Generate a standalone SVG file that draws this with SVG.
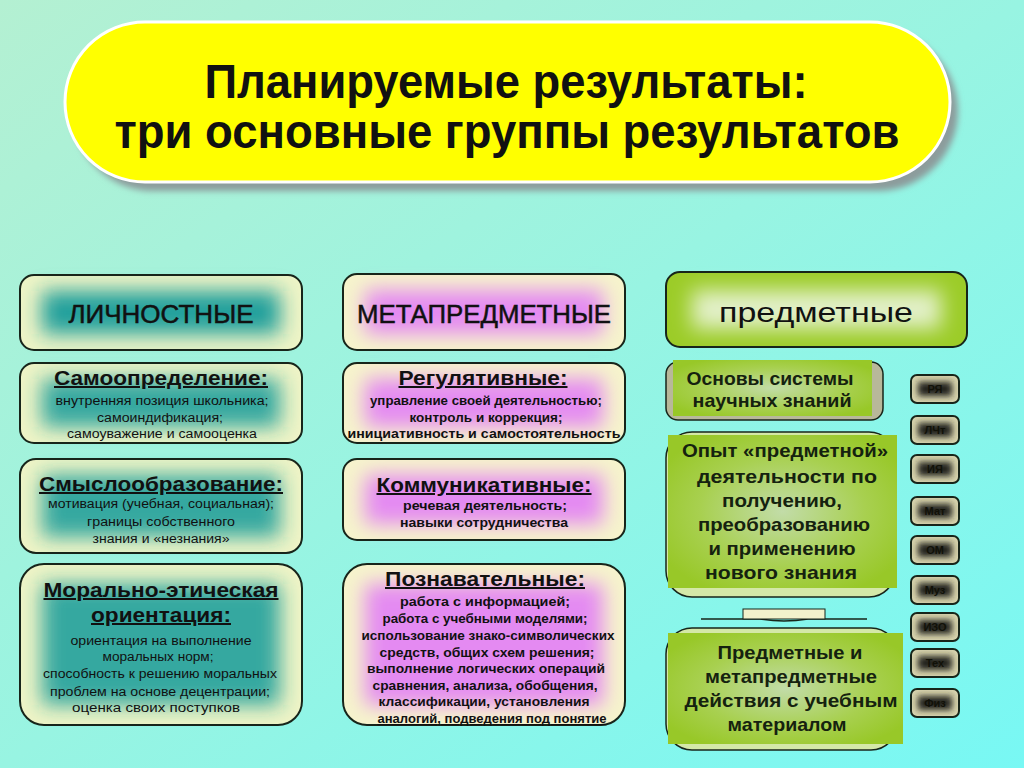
<svg xmlns="http://www.w3.org/2000/svg" width="1024" height="768" viewBox="0 0 1024 768">
<defs>
<linearGradient id="bg" x1="0" y1="0" x2="1" y2="1">
<stop offset="0" stop-color="#b4f0d2"/>
<stop offset="0.5" stop-color="#98f4e2"/>
<stop offset="1" stop-color="#78f8f4"/>
</linearGradient>
<radialGradient id="greenG" cx="0.5" cy="0.5" r="0.6">
<stop offset="0" stop-color="#c2dca8"/>
<stop offset="0.6" stop-color="#a8d050"/>
<stop offset="1" stop-color="#98c828"/>
</radialGradient>
<filter id="blur9" x="-40%" y="-80%" width="180%" height="260%"><feGaussianBlur stdDeviation="10"/></filter>
<filter id="blur4" x="-40%" y="-80%" width="180%" height="260%"><feGaussianBlur stdDeviation="3"/></filter>
<filter id="shadow" x="-10%" y="-20%" width="120%" height="140%"><feGaussianBlur stdDeviation="3"/></filter>
<style>
text{font-family:"Liberation Sans",Arial,sans-serif;fill:#111;text-anchor:middle}
.title{font-size:48px;font-weight:bold}
.head{font-size:25px;stroke:#111;stroke-width:0.5}
.h2{font-size:20px;font-weight:bold;text-decoration:underline}
.sub{font-size:12.5px}
.subb{font-size:12.5px;font-weight:bold}
.gr{font-size:18.5px;font-weight:bold;fill:#15220f}
.badge text{font-size:11px;font-weight:bold;fill:#111108}
.frame{fill:none;stroke:#17251a;stroke-width:2}
.cream{fill:#eef4c6}
.creamM{fill:#f6f4cc}
.teal{fill:#22a09c}
.pink{fill:#e48af2}
.gbox{fill:url(#greenG)}
.bfr{fill:#d8d4ae;stroke:#17251a;stroke-width:2}
.bcore{fill:#24221a}
</style>
</defs>

<rect x="0" y="0" width="1024" height="768" fill="url(#bg)"/>

<g id="title">
<rect x="73" y="31" width="885" height="160" rx="80" fill="#8c9c9c" filter="url(#shadow)"/>
<rect x="65" y="22" width="885" height="160" rx="80" fill="#ffff00" stroke="#ffffff" stroke-width="3"/>
<text class="title" x="506" y="98" textLength="603" lengthAdjust="spacingAndGlyphs">Планируемые результаты:</text>
<text class="title" x="507" y="148" textLength="785" lengthAdjust="spacingAndGlyphs">три основные группы результатов</text>
</g>

<!-- Left column -->
<g id="lichnostnye">
<rect class="cream" x="20" y="275" width="282" height="75" rx="14"/>
<rect class="teal" x="42" y="291" width="238" height="43" filter="url(#blur9)"/>
<rect class="frame" x="20" y="275" width="282" height="75" rx="14"/>
<text class="head" x="161" y="323" textLength="185" lengthAdjust="spacingAndGlyphs">ЛИЧНОСТНЫЕ</text>
</g>

<g id="samoopredelenie">
<rect class="cream" x="20" y="363" width="282" height="80" rx="14"/>
<rect class="teal" x="42" y="379" width="238" height="48" filter="url(#blur9)" opacity="0.9"/>
<rect class="frame" x="20" y="363" width="282" height="80" rx="14"/>
<text class="h2" x="161" y="385" textLength="214" lengthAdjust="spacingAndGlyphs">Самоопределение:</text>
<text class="sub" x="162" y="405" textLength="213" lengthAdjust="spacingAndGlyphs">внутренняя позиция школьника;</text>
<text class="sub" x="160" y="422" textLength="126" lengthAdjust="spacingAndGlyphs">самоиндификация;</text>
<text class="sub" x="162" y="438" textLength="190" lengthAdjust="spacingAndGlyphs">самоуважение и самооценка</text>
</g>

<g id="smysloobrazovanie">
<rect class="cream" x="20" y="459" width="282" height="94" rx="16"/>
<rect class="teal" x="42" y="475" width="238" height="62" filter="url(#blur9)" opacity="0.9"/>
<rect class="frame" x="20" y="459" width="282" height="94" rx="16"/>
<text class="h2" x="161" y="491" textLength="244" lengthAdjust="spacingAndGlyphs">Смыслообразование:</text>
<text class="sub" x="161" y="508" textLength="226" lengthAdjust="spacingAndGlyphs">мотивация (учебная, социальная);</text>
<text class="sub" x="161" y="526" textLength="148" lengthAdjust="spacingAndGlyphs">границы собственного</text>
<text class="sub" x="161" y="543" textLength="137" lengthAdjust="spacingAndGlyphs">знания и «незнания»</text>
</g>

<g id="moralno">
<rect class="cream" x="20" y="564" width="282" height="161" rx="24"/>
<rect class="teal" x="42" y="584" width="238" height="121" filter="url(#blur9)" opacity="0.9"/>
<rect class="frame" x="20" y="564" width="282" height="161" rx="24"/>
<text class="h2" x="161" y="597" textLength="235" lengthAdjust="spacingAndGlyphs">Морально-этическая</text>
<text class="h2" x="161" y="622" textLength="140" lengthAdjust="spacingAndGlyphs">ориентация:</text>
<text class="sub" x="161" y="645" textLength="181" lengthAdjust="spacingAndGlyphs">ориентация на выполнение</text>
<text class="sub" x="158" y="661" textLength="111" lengthAdjust="spacingAndGlyphs">моральных норм;</text>
<text class="sub" x="160" y="678" textLength="234" lengthAdjust="spacingAndGlyphs">способность к решению моральных</text>
<text class="sub" x="160" y="696" textLength="220" lengthAdjust="spacingAndGlyphs">проблем на основе децентрации;</text>
<text class="sub" x="156" y="712" textLength="168" lengthAdjust="spacingAndGlyphs">оценка своих поступков</text>
</g>

<!-- Middle column -->
<g id="metapredmetnye">
<rect class="creamM" x="343" y="274" width="282" height="76" rx="14"/>
<rect class="pink" x="365" y="290" width="238" height="44" filter="url(#blur9)"/>
<rect class="frame" x="343" y="274" width="282" height="76" rx="14"/>
<text class="head" x="484" y="323" textLength="254" lengthAdjust="spacingAndGlyphs">МЕТАПРЕДМЕТНЫЕ</text>
</g>

<g id="regulyativnye">
<rect class="creamM" x="343" y="363" width="282" height="80" rx="14"/>
<rect class="pink" x="365" y="379" width="238" height="48" filter="url(#blur9)"/>
<rect class="frame" x="343" y="363" width="282" height="80" rx="14"/>
<text class="h2" x="483" y="385" textLength="169" lengthAdjust="spacingAndGlyphs">Регулятивные:</text>
<text class="subb" x="486" y="405" textLength="232" lengthAdjust="spacingAndGlyphs">управление своей деятельностью;</text>
<text class="subb" x="486" y="422" textLength="153" lengthAdjust="spacingAndGlyphs">контроль и коррекция;</text>
<text class="subb" x="484" y="438" textLength="273" lengthAdjust="spacingAndGlyphs">инициативность и самостоятельность</text>
</g>

<g id="kommunikativnye">
<rect class="creamM" x="343" y="459" width="282" height="81" rx="14"/>
<rect class="pink" x="365" y="475" width="238" height="49" filter="url(#blur9)"/>
<rect class="frame" x="343" y="459" width="282" height="81" rx="14"/>
<text class="h2" x="484" y="492" textLength="215" lengthAdjust="spacingAndGlyphs">Коммуникативные:</text>
<text class="subb" x="485" y="510" textLength="164" lengthAdjust="spacingAndGlyphs">речевая деятельность;</text>
<text class="subb" x="484" y="527" textLength="168" lengthAdjust="spacingAndGlyphs">навыки сотрудничества</text>
</g>

<g id="poznavatelnye">
<rect class="creamM" x="343" y="564" width="282" height="161" rx="24"/>
<rect class="pink" x="365" y="584" width="238" height="121" filter="url(#blur9)"/>
<rect class="frame" x="343" y="564" width="282" height="161" rx="24"/>
<text class="h2" x="485" y="586" textLength="200" lengthAdjust="spacingAndGlyphs">Познавательные:</text>
<text class="subb" x="485" y="606" textLength="170" lengthAdjust="spacingAndGlyphs">работа с информацией;</text>
<text class="subb" x="485" y="623" textLength="205" lengthAdjust="spacingAndGlyphs">работа с учебными моделями;</text>
<text class="subb" x="488" y="640" textLength="253" lengthAdjust="spacingAndGlyphs">использование знако-символических</text>
<text class="subb" x="487" y="657" textLength="215" lengthAdjust="spacingAndGlyphs">средств, общих схем решения;</text>
<text class="subb" x="486" y="673" textLength="238" lengthAdjust="spacingAndGlyphs">выполнение логических операций</text>
<text class="subb" x="485" y="690" textLength="225" lengthAdjust="spacingAndGlyphs">сравнения, анализа, обобщения,</text>
<text class="subb" x="484" y="706" textLength="211" lengthAdjust="spacingAndGlyphs">классификации, установления</text>
<text class="subb" x="492" y="723" textLength="229" lengthAdjust="spacingAndGlyphs" text-decoration="underline">аналогий, подведения под понятие</text>
</g>

<!-- Right column -->
<g id="predmetnye">
<rect x="666" y="272" width="301" height="75" rx="14" fill="#9ccc28"/>
<rect x="692" y="290" width="249" height="39" fill="#e2f0c8" filter="url(#blur9)"/>
<rect class="frame" x="666" y="272" width="301" height="75" rx="14"/>
<text x="816" y="322" style="font-size:27px" textLength="194" lengthAdjust="spacingAndGlyphs">предметные</text>
</g>

<g id="osnovy">
<rect x="666" y="362" width="217" height="58" rx="12" fill="#b8b89a" stroke="#17251a" stroke-width="1.5"/>
<rect x="673" y="360" width="199" height="56" class="gbox"/>
<text class="gr" x="770" y="385" textLength="167" lengthAdjust="spacingAndGlyphs">Основы системы</text>
<text class="gr" x="772" y="407" textLength="159" lengthAdjust="spacingAndGlyphs">научных знаний</text>
</g>

<g id="opyt">
<rect x="666" y="432" width="229" height="165" rx="26" fill="#d4e8a8" stroke="#17251a" stroke-width="1.5"/>
<rect x="668" y="435" width="229" height="153" class="gbox"/>
<text class="gr" x="785" y="457" textLength="206" lengthAdjust="spacingAndGlyphs">Опыт «предметной»</text>
<text class="gr" x="787" y="483" textLength="180" lengthAdjust="spacingAndGlyphs">деятельности по</text>
<text class="gr" x="782" y="507" textLength="120" lengthAdjust="spacingAndGlyphs">получению,</text>
<text class="gr" x="784" y="531" textLength="172" lengthAdjust="spacingAndGlyphs">преобразованию</text>
<text class="gr" x="782" y="555" textLength="147" lengthAdjust="spacingAndGlyphs">и применению</text>
<text class="gr" x="781" y="579" textLength="152" lengthAdjust="spacingAndGlyphs">нового знания</text>
</g>

<g id="connectors">
<path d="M701 619 L760 619 Q784 623 808 619 L867 619" fill="none" stroke="#17251a" stroke-width="1.5"/>
<rect x="743" y="609" width="82" height="10" fill="#f2f2cc" stroke="#17251a" stroke-width="1"/>
</g>

<g id="predmetnye-deystviya">
<rect x="666" y="628" width="231" height="122" rx="26" fill="#d4e8a8" stroke="#17251a" stroke-width="1.5"/>
<rect x="668" y="633" width="235" height="111" class="gbox"/>
<text class="gr" x="790" y="659" textLength="145" lengthAdjust="spacingAndGlyphs">Предметные и</text>
<text class="gr" x="791" y="683" textLength="172" lengthAdjust="spacingAndGlyphs">метапредметные</text>
<text class="gr" x="791" y="707" textLength="213" lengthAdjust="spacingAndGlyphs">действия с учебным</text>
<text class="gr" x="787" y="731" textLength="119" lengthAdjust="spacingAndGlyphs">материалом</text>
</g>

<!-- Badges -->
<g id="badge-rya" class="badge">
<rect class="bfr" x="911" y="375" width="48" height="28" rx="6"/>
<rect class="bcore" x="918" y="382" width="34" height="14" filter="url(#blur4)"/>
<text x="935" y="393">РЯ</text>
</g>
<g id="badge-lcht" class="badge">
<rect class="bfr" x="911" y="416" width="48" height="28" rx="6"/>
<rect class="bcore" x="918" y="423" width="34" height="14" filter="url(#blur4)"/>
<text x="935" y="434">ЛЧт</text>
</g>
<g id="badge-iya" class="badge">
<rect class="bfr" x="911" y="455" width="48" height="28" rx="6"/>
<rect class="bcore" x="918" y="462" width="34" height="14" filter="url(#blur4)"/>
<text x="935" y="473">ИЯ</text>
</g>
<g id="badge-mat" class="badge">
<rect class="bfr" x="911" y="497" width="48" height="28" rx="6"/>
<rect class="bcore" x="918" y="504" width="34" height="14" filter="url(#blur4)"/>
<text x="935" y="515">Мат</text>
</g>
<g id="badge-om" class="badge">
<rect class="bfr" x="911" y="536" width="48" height="28" rx="6"/>
<rect class="bcore" x="918" y="543" width="34" height="14" filter="url(#blur4)"/>
<text x="935" y="554">ОМ</text>
</g>
<g id="badge-muz" class="badge">
<rect class="bfr" x="911" y="576" width="48" height="28" rx="6"/>
<rect class="bcore" x="918" y="583" width="34" height="14" filter="url(#blur4)"/>
<text x="935" y="594">Муз</text>
</g>
<g id="badge-izo" class="badge">
<rect class="bfr" x="911" y="613" width="48" height="28" rx="6"/>
<rect class="bcore" x="918" y="620" width="34" height="14" filter="url(#blur4)"/>
<text x="935" y="631">ИЗО</text>
</g>
<g id="badge-teh" class="badge">
<rect class="bfr" x="911" y="649" width="48" height="28" rx="6"/>
<rect class="bcore" x="918" y="656" width="34" height="14" filter="url(#blur4)"/>
<text x="935" y="667">Тех</text>
</g>
<g id="badge-fiz" class="badge">
<rect class="bfr" x="911" y="689" width="48" height="28" rx="6"/>
<rect class="bcore" x="918" y="696" width="34" height="14" filter="url(#blur4)"/>
<text x="935" y="707">Физ</text>
</g>
</svg>
